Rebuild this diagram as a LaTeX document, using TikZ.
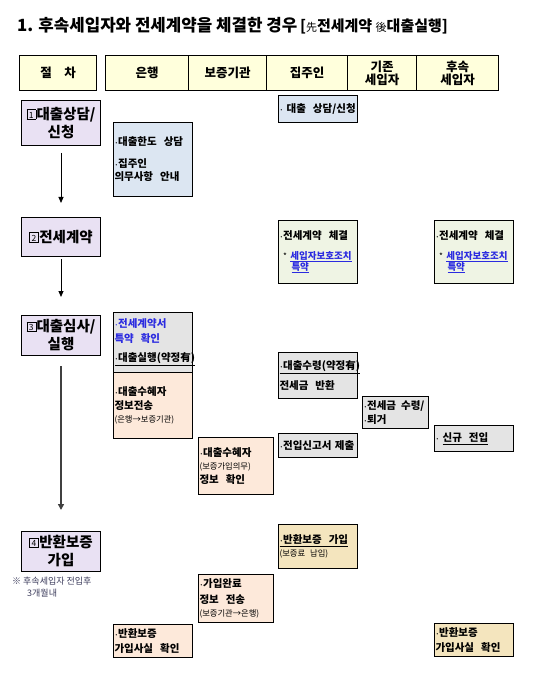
\documentclass[tikz,border=0pt]{standalone}
\usepackage{fontspec}
\setmainfont{Noto Sans CJK KR}
\usetikzlibrary{arrows.meta}
\definecolor{hdr}{HTML}{FFFFDC}
\definecolor{lav}{HTML}{E9E1F3}
\definecolor{lblue}{HTML}{DCE6F2}
\definecolor{lgreen}{HTML}{EFF4E4}
\definecolor{lgrey}{HTML}{E4E4E4}
\definecolor{peach}{HTML}{FDE9DA}
\definecolor{tanc}{HTML}{F4E5BE}
\definecolor{lnk}{HTML}{2B2BE0}
\definecolor{notec}{HTML}{3A3A5A}
\newcommand\sqnum[1]{{\fboxsep=0pt\fboxrule=0.5pt\raisebox{0.5pt}{\fbox{\makebox[8.5pt][c]{\rule{0pt}{9pt}\fontsize{8.5}{8}\selectfont\mdseries\raisebox{0.8pt}{#1}}}}\hspace{0.5pt}}}
\newcommand\smtxt[1]{{\fontsize{8.3}{10}\selectfont\mdseries #1}}
\newcommand\dt{{\fontsize{6}{6}\selectfont ·}}
\newcommand\wsp{\hspace{7pt}}
\tikzset{
  hcell/.style={draw, line width=1pt, fill=hdr, anchor=north west, minimum height=35pt, font=\fontsize{12.5}{13}\selectfont\bfseries, align=center, inner sep=0pt},
  stepbox/.style={draw, line width=1pt, fill=lav, anchor=north west, minimum width=79pt, font=\fontsize{14.5}{18}\selectfont\bfseries, align=center, inner sep=0pt},
  cbox/.style={draw, line width=1pt, anchor=north west, minimum width=79pt, text width=77pt, inner xsep=1pt, inner ysep=0pt, align=left, font=\fontsize{10.5}{13.5}\selectfont\bfseries},
  nbox/.style={cbox, minimum width=75pt, text width=73pt},
  arr/.style={line width=0.8pt, -{Triangle[width=5pt,length=6pt]}},
  arrk/.style={line width=1.5pt, draw=black!75, -{Triangle[width=6pt,length=6pt]}}
}
\begin{document}
\begin{tikzpicture}[x=1pt,y=-1pt]
\useasboundingbox (0,0) rectangle (542,700);
% title
\node[anchor=west, inner sep=0pt, font=\fontsize{16.8}{18}\selectfont\bfseries] (title) at (17,26)
  {1. 후속세입자와 전세계약을 체결한 경우\,{\fontsize{15}{18}\selectfont[{\fontsize{11}{10}\selectfont\mdseries 先}전세계약 {\fontsize{11}{10}\selectfont\mdseries 後}대출실행]}};
% header
\node[hcell, minimum width=77pt] (h0) at (19,55) {절\quad 차};
\node[hcell, minimum width=83pt] (h1) at (105,55) {은행};
\node[hcell, minimum width=78pt] (h2) at (188,55) {보증기관};
\node[hcell, minimum width=81pt] (h3) at (266,55) {집주인};
\node[hcell, minimum width=69pt] (h4) at (347,55) {기존\\세입자};
\node[hcell, minimum width=82pt] (h5) at (416,55) {후속\\세입자};
% steps
\node[stepbox, minimum height=45pt] (s1) at (21,100) {\sqnum{1}대출상담/\\신청};
\node[stepbox, minimum height=39pt] (s2) at (21,217) {\sqnum{2}전세계약};
\node[stepbox, minimum height=40pt] (s3) at (21,315) {\sqnum{3}대출심사/\\실행};
\node[stepbox, minimum height=40pt] (s4) at (21,531) {\sqnum{4}반환보증\\가입};
\draw[arr, shorten <=7pt, shorten >=14pt] (s1.south) -- (s2.north);
\draw[arr, shorten <=2pt, shorten >=18pt] (s2.south) -- (s3.north);
\draw[arrk, shorten <=10pt, shorten >=21pt] (s3.south) -- (s4.north);
\node[anchor=north west, inner sep=0pt, align=left, text=notec, font=\fontsize{9}{12}\selectfont] (note) at (12,577)
  {※ 후속세입자 전입후\\\hspace*{15pt}3개월내};
% step 1
\node[cbox, fill=lblue, minimum height=74pt] (b1) at (113,122)
  {\dt 대출한도\wsp 상담\\[8pt]\dt 집주인\\의무사항\wsp 안내};
\node[cbox, fill=lblue, minimum height=27pt] (l1) at (278,95) {\dt\ 대출\wsp 상담/신청};
% step 2
\node[cbox, fill=lgreen, minimum height=63pt] (l2) at (278,220)
  {\dt 전세계약\wsp 체결\\[6pt]{\fontsize{9.5}{11}\selectfont\ \smtxt{*} \textcolor{lnk}{\underline{세입자보호조치}}}\\[-2.5pt]{\fontsize{9.5}{11}\selectfont\hspace*{12pt}\textcolor{lnk}{\underline{특약}}}};
\node[cbox, fill=lgreen, minimum height=63pt] (t2) at (434,220)
  {\dt 전세계약\wsp 체결\\[6pt]{\fontsize{9.5}{11}\selectfont\ \smtxt{*} \textcolor{lnk}{\underline{세입자보호조치}}}\\[-2.5pt]{\fontsize{9.5}{11}\selectfont\hspace*{12pt}\textcolor{lnk}{\underline{특약}}}};
% step 3
\node[cbox, fill=lgrey, minimum height=60pt] (b3) at (113,312)
  {\textcolor{lnk}{\dt 전세계약서}\\[1pt]\textcolor{lnk}{특약\wsp 확인}\\[6pt]\underline{\dt 대출실행(약정有)}};
\node[cbox, fill=peach, minimum height=66pt] (b4) at (113,372)
  {\dt 대출수혜자\\정보전송\\\smtxt{(은행→보증기관)}};
\node[nbox, fill=peach, minimum height=57pt] (g1) at (198,437)
  {\dt 대출수혜자\\\smtxt{(보증가입의무)}\\정보\wsp 확인};
\node[cbox, fill=lgrey, minimum height=46pt] (l3) at (278,352)
  {\underline{\dt 대출수령(약정有)}\\[7pt]전세금\wsp 반환};
\node[cbox, fill=lgrey, minimum width=66pt, text width=64pt, minimum height=32pt] (e1) at (362,396)
  {\dt 전세금\hspace{5pt}수령/\\\dt 퇴거};
\node[cbox, fill=lgrey, minimum height=24pt] (l4) at (278,433) {\dt 전입신고서 제출};
\node[cbox, fill=lgrey, minimum height=26pt] (t3) at (434,425) {\dt\ \underline{신규\wsp 전입}};
% step 4
\node[cbox, fill=tanc, minimum height=44pt] (l5) at (278,524)
  {\underline{\dt 반환보증\wsp 가입}\\\smtxt{(보증료\hspace{5pt}납입)}};
\node[nbox, fill=peach, minimum height=48pt] (g2) at (198,574)
  {\dt 가입완료\\[2pt]정보\wsp 전송\\\smtxt{(보증기관→은행)}};
\node[cbox, fill=peach, minimum height=33pt] (b5) at (113,624)
  {\dt 반환보증\\[1pt]가입사실\wsp 확인};
\node[cbox, fill=tanc, minimum height=33pt] (t4) at (434,623)
  {\dt 반환보증\\[1pt]가입사실\wsp 확인};
\end{tikzpicture}
\end{document}
